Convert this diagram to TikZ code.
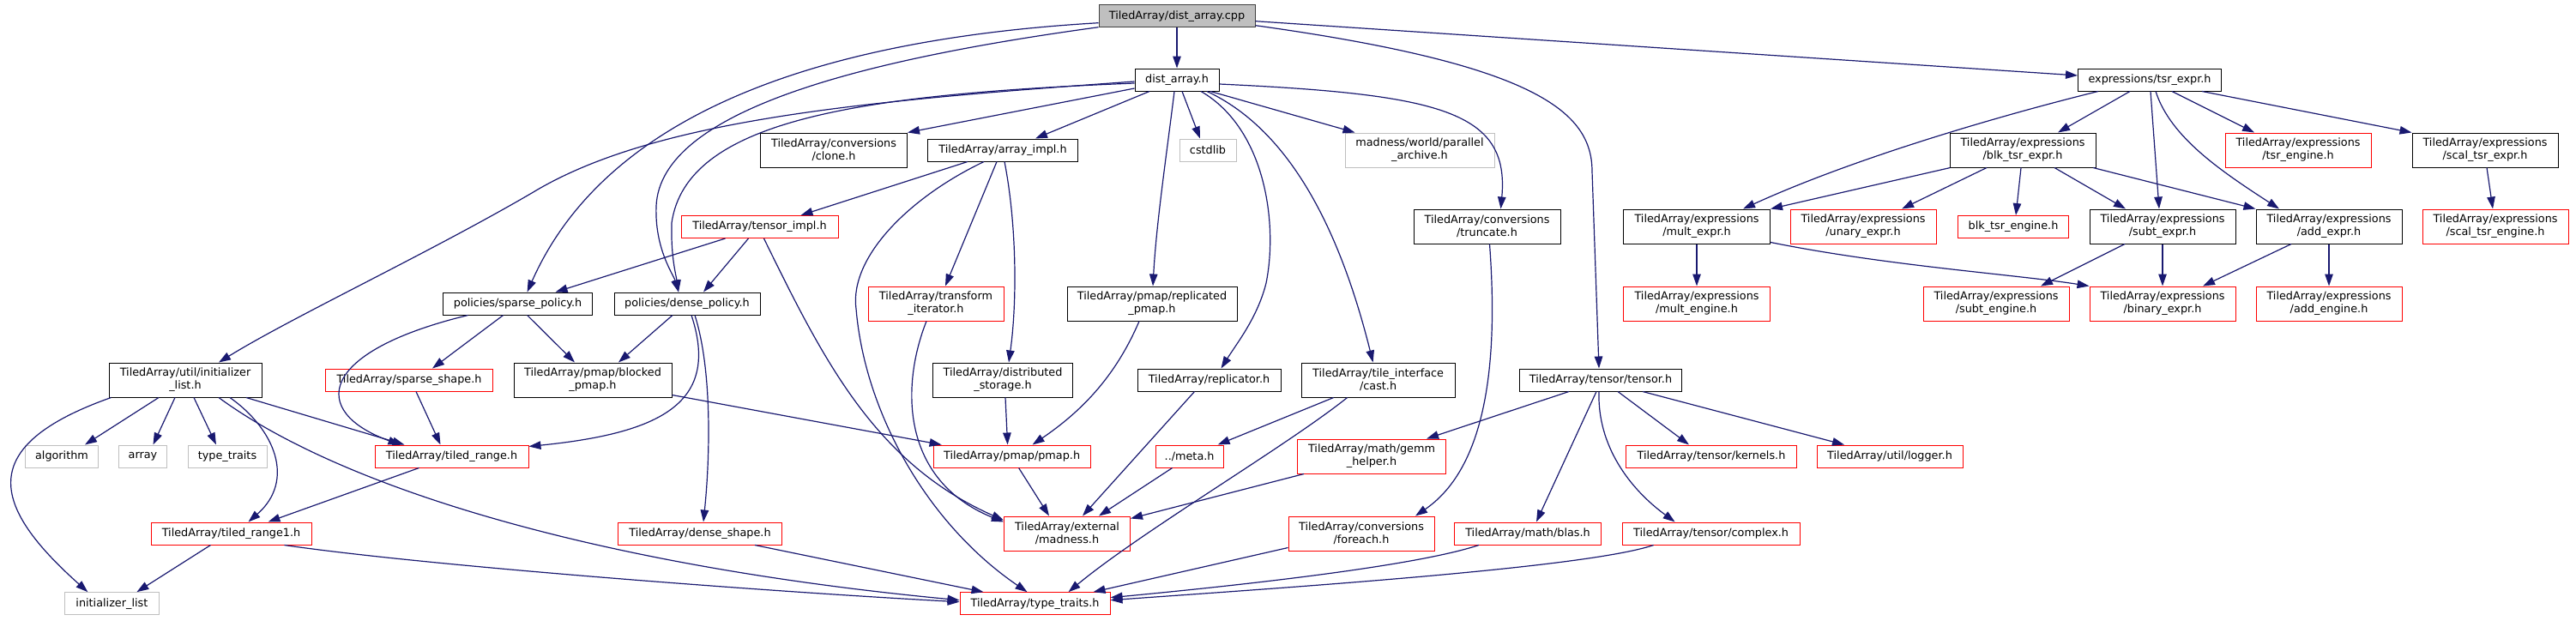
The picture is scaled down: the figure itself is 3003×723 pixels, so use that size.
\documentclass[tikz,border=0pt]{standalone}
\usepackage{fontspec}
\setmainfont{DejaVu Sans}
\usetikzlibrary{arrows.meta,calc}
\definecolor{edgeblue}{HTML}{191970}
\definecolor{extgray}{HTML}{BFBFBF}
\definecolor{rootfill}{HTML}{BFBFBF}
\definecolor{rootdraw}{HTML}{404040}
\definecolor{truncred}{HTML}{FF0000}
\tikzset{
  base/.style={rectangle, inner sep=0pt, align=center, font=\fontsize{12.8}{15}\selectfont, line width=1pt, fill=white, minimum height=26pt},
  two/.style={minimum height=40pt},
  doc/.style={base, draw=black},
  trn/.style={base, draw=truncred},
  ext/.style={base, draw=extgray},
  rootnode/.style={base, draw=rootdraw, fill=rootfill},
  dep/.style={draw=edgeblue, line width=1.2pt, -{Triangle[length=14pt,width=9.5pt]}}
}
\begin{document}
\begin{tikzpicture}[x=1pt,y=-1pt]
\useasboundingbox (0,0) rectangle (3003,723);
% row 1-2
\node[rootnode, minimum width=182pt] (root) at (1372,18.7) {TiledArray/dist\_array.cpp};
\node[doc, minimum width=98pt] (da) at (1372,93) {dist\_array.h};
\node[doc, minimum width=167pt] (tsrexpr) at (2506,93) {expressions/tsr\_expr.h};
% row 3
\node[doc,two, minimum width=171pt] (clone) at (972,175) {TiledArray/conversions\\/clone.h};
\node[doc, minimum width=175pt] (aimpl) at (1169,175) {TiledArray/array\_impl.h};
\node[ext, minimum width=66pt] (cstdlib) at (1408,175) {cstdlib};
\node[ext,two, minimum width=174pt] (parch) at (1655,175) {madness/world/parallel\\\_archive.h};
\node[doc,two, minimum width=170pt] (blk) at (2358,175) {TiledArray/expressions\\/blk\_tsr\_expr.h};
\node[trn,two, minimum width=170pt] (tsreng) at (2679,175) {TiledArray/expressions\\/tsr\_engine.h};
\node[doc,two, minimum width=170pt] (scal) at (2897,175) {TiledArray/expressions\\/scal\_tsr\_expr.h};
% row 4
\node[trn, minimum width=183pt] (timpl) at (885.5,264.5) {TiledArray/tensor\_impl.h};
\node[doc,two, minimum width=171pt] (trunc) at (1733.5,264) {TiledArray/conversions\\/truncate.h};
\node[doc,two, minimum width=171pt] (mult) at (1978,264) {TiledArray/expressions\\/mult\_expr.h};
\node[trn,two, minimum width=170pt] (unary) at (2172,264) {TiledArray/expressions\\/unary\_expr.h};
\node[trn, minimum width=129pt] (blkeng) at (2347,264.5) {blk\_tsr\_engine.h};
\node[doc,two, minimum width=170pt] (subt) at (2521,264) {TiledArray/expressions\\/subt\_expr.h};
\node[doc,two, minimum width=170pt] (add) at (2715,264) {TiledArray/expressions\\/add\_expr.h};
\node[trn,two, minimum width=170pt] (scaleng) at (2909,264) {TiledArray/expressions\\/scal\_tsr\_engine.h};
% row 5
\node[doc, minimum width=174pt] (sparse) at (603.6,354) {policies/sparse\_policy.h};
\node[doc, minimum width=170pt] (dense) at (801,354) {policies/dense\_policy.h};
\node[trn,two, minimum width=158pt] (transf) at (1091,354) {TiledArray/transform\\\_iterator.h};
\node[doc,two, minimum width=198pt] (repl) at (1343,354) {TiledArray/pmap/replicated\\\_pmap.h};
\node[trn,two, minimum width=171pt] (multeng) at (1978,354) {TiledArray/expressions\\/mult\_engine.h};
\node[trn,two, minimum width=170pt] (subteng) at (2327,354) {TiledArray/expressions\\/subt\_engine.h};
\node[trn,two, minimum width=170pt] (binary) at (2521,354) {TiledArray/expressions\\/binary\_expr.h};
\node[trn,two, minimum width=170pt] (addeng) at (2715,354) {TiledArray/expressions\\/add\_engine.h};
% row 6
\node[doc,two, minimum width=178pt] (uinit) at (216,443) {TiledArray/util/initializer\\\_list.h};
\node[trn, minimum width=195pt] (sshape) at (477,443) {TiledArray/sparse\_shape.h};
\node[doc,two, minimum width=184pt] (bpmap) at (691,443) {TiledArray/pmap/blocked\\\_pmap.h};
\node[doc,two, minimum width=163pt] (dstor) at (1169,443) {TiledArray/distributed\\\_storage.h};
\node[doc, minimum width=167pt] (replicator) at (1409.5,443) {TiledArray/replicator.h};
\node[doc,two, minimum width=179pt] (cast) at (1606.6,443) {TiledArray/tile\_interface\\/cast.h};
\node[doc, minimum width=189pt] (tensor) at (1866,443) {TiledArray/tensor/tensor.h};
% row 7
\node[ext, minimum width=85pt] (algo) at (72,532) {algorithm};
\node[ext, minimum width=56pt] (arr) at (166.5,532) {array};
\node[ext, minimum width=92pt] (stdtt) at (265,532) {type\_traits};
\node[trn, minimum width=179pt] (trange) at (526.5,532) {TiledArray/tiled\_range.h};
\node[trn, minimum width=183pt] (pmap) at (1179.6,532) {TiledArray/pmap/pmap.h};
\node[trn, minimum width=79pt] (meta) at (1386.6,532) {../meta.h};
\node[trn,two, minimum width=173pt] (gemm) at (1599,532) {TiledArray/math/gemm\\\_helper.h};
\node[trn, minimum width=199pt] (kernels) at (1995,532) {TiledArray/tensor/kernels.h};
\node[trn, minimum width=170pt] (logger) at (2203,532) {TiledArray/util/logger.h};
% row 8
\node[trn, minimum width=187pt] (trange1) at (269.5,622) {TiledArray/tiled\_range1.h};
\node[trn, minimum width=191pt] (dshape) at (816,622) {TiledArray/dense\_shape.h};
\node[trn,two, minimum width=147pt] (madness) at (1244,622) {TiledArray/external\\/madness.h};
\node[trn,two, minimum width=170pt] (foreach) at (1587,622) {TiledArray/conversions\\/foreach.h};
\node[trn, minimum width=171pt] (blas) at (1781,622) {TiledArray/math/blas.h};
\node[trn, minimum width=207pt] (complex) at (1994.6,622) {TiledArray/tensor/complex.h};
% row 9
\node[ext, minimum width=110pt] (initl) at (130.4,703.7) {initializer\_list};
\node[trn, minimum width=175pt] (tt) at (1206.5,703.7) {TiledArray/type\_traits.h};

% ---- edges from root
\draw[dep] (root) -- (da);
\draw[dep] ($(root.east)+(0,6)$) -- ($(tsrexpr.west)+(0,-5)$);
\draw[dep] ($(root.east)+(0,11)$) .. controls (1790,75) and (1856,130) .. (1856,200) -- ($(tensor.north)+(-2,0)$);
\draw[dep] ($(root.west)+(0,8)$) .. controls (880,50) and (690,170) .. ($(sparse.north)+(11,0)$);
\draw[dep] ($(root.west)+(0,13)$) .. controls (1000,70) and (770,130) .. (765,240) .. controls (763,290) and (785,320) .. ($(dense.north)+(-10,0)$);
% ---- edges from dist_array.h
\draw[dep] ($(da.west)+(0,10)$) -- (clone.north east);
\draw[dep] ($(da.south)+(-32,0)$) -- ($(aimpl.north)+(38,0)$);
\draw[dep] ($(da.south)+(6,0)$) -- ($(cstdlib.north)+(-9,0)$);
\draw[dep] ($(da.south)+(39,0)$) -- ($(parch.north west)+(12,0)$);
\draw[dep] ($(da.east)+(0,5)$) .. controls (1680,110) and (1760,130) .. ($(trunc.north)+(16,0)$);
\draw[dep] ($(da.south)+(-3,0)$) .. controls (1360,180) and (1348,260) .. ($(repl.north)+(1,0)$);
\draw[dep] ($(da.south)+(28,0)$) .. controls (1475,150) and (1490,260) .. (1476,330) .. controls (1466,370) and (1442,400) .. ($(replicator.north)+(14,0)$);
\draw[dep] ($(da.south)+(35,0)$) .. controls (1500,150) and (1560,260) .. ($(cast.north)+(-6,0)$);
\draw[dep] ($(da.west)+(0,2)$) .. controls (1000,118) and (760,140) .. (620,225) .. controls (500,295) and (340,370) .. ($(uinit.north)+(39,0)$);
\draw[dep] ($(da.west)+(0,4)$) .. controls (1000,110) and (800,140) .. (783,260) .. controls (782,300) and (788,320) .. ($(dense.north)+(-10,0)$);
% ---- array_impl
\draw[dep] ($(aimpl.south)+(-41,0)$) -- ($(timpl.north)+(48,0)$);
\draw[dep] ($(aimpl.south)+(-22,0)$) .. controls (1060,230) and (990,300) .. (998,360) .. controls (1008,480) and (1080,610) .. ($(tt.north)+(-9,0)$);
\draw[dep] ($(aimpl.south)+(-7,0)$) -- ($(transf.north)+(11,0)$);
\draw[dep] ($(aimpl.south)+(2,0)$) .. controls (1185,260) and (1186,350) .. ($(dstor.north)+(7,0)$);
% ---- tensor_impl, transform
\draw[dep] ($(timpl.south)+(-40,0)$) -- ($(sparse.north)+(44,0)$);
\draw[dep] ($(timpl.south)+(-13,0)$) -- ($(dense.north)+(19,0)$);
\draw[dep] ($(timpl.south)+(5,0)$) .. controls (960,420) and (1020,540) .. ($(madness.north west)+(0,5)$);
\draw[dep] ($(transf.south)+(-11,0)$) .. controls (1050,450) and (1050,560) .. ($(madness.north west)+(0,7)$);
% ---- policies
\draw[dep] ($(sparse.south)+(-17,0)$) -- ($(sshape.north)+(27,0)$);
\draw[dep] ($(sparse.south)+(11,0)$) -- ($(bpmap.north)+(-21,0)$);
\draw[dep] ($(sparse.south)+(-58,0)$) .. controls (370,410) and (360,480) .. ($(trange.north)+(-60,0)$);
\draw[dep] ($(dense.south)+(-17,0)$) -- ($(bpmap.north)+(30,0)$);
\draw[dep] ($(dense.south)+(5,0)$) .. controls (840,470) and (770,505) .. ($(trange.north east)+(0,2)$);
\draw[dep] ($(dense.south)+(9,0)$) .. controls (830,430) and (828,530) .. ($(dshape.north)+(4,0)$);
% ---- util/initializer_list.h
\draw[dep] ($(uinit.south west)+(3,0)$) .. controls (-30,520) and (-10,590) .. ($(initl.north)+(-28,0)$);
\draw[dep] ($(uinit.south)+(-31,0)$) -- ($(algo.north)+(27,0)$);
\draw[dep] ($(uinit.south)+(-12,0)$) -- ($(arr.north)+(12,0)$);
\draw[dep] ($(uinit.south)+(10,0)$) -- ($(stdtt.north)+(-13,0)$);
\draw[dep] ($(uinit.south)+(39,0)$) .. controls (400,570) and (700,660) .. ($(tt.west)+(0,-4)$);
\draw[dep] ($(uinit.south)+(52,0)$) .. controls (320,500) and (345,560) .. ($(trange1.north)+(20,0)$);
\draw[dep] ($(uinit.south)+(71,0)$) -- ($(trange.north)+(-55,0)$);
% ---- ranges, shapes
\draw[dep] ($(sshape.south)+(8,0)$) -- ($(trange.north)+(-13,0)$);
\draw[dep] ($(trange.south)+(-38,0)$) -- ($(trange1.north)+(43,0)$);
\draw[dep] ($(trange1.south)+(-24,0)$) -- ($(initl.north)+(29,0)$);
\draw[dep] ($(trange1.south)+(62,0)$) .. controls (500,660) and (900,690) .. ($(tt.west)+(0,-2)$);
\draw[dep] ($(dshape.south)+(64,0)$) -- ($(tt.north)+(-60,0)$);
% ---- pmaps
\draw[dep] ($(bpmap.south east)+(0,-3)$) -- ($(pmap.north west)+(10,0)$);
\draw[dep] ($(dstor.south)+(3,0)$) -- ($(pmap.north)+(-5,0)$);
\draw[dep] ($(repl.south)+(-15,0)$) .. controls (1300,440) and (1260,480) .. ($(pmap.north)+(24,0)$);
\draw[dep] ($(pmap.south)+(8,0)$) -- ($(madness.north)+(-21,0)$);
\draw[dep] ($(replicator.south)+(-17,0)$) -- ($(madness.north)+(18,0)$);
\draw[dep] ($(meta.south)+(-20,0)$) -- ($(madness.north)+(37,0)$);
\draw[dep] ($(gemm.south west)+(8,0)$) -- ($(madness.north east)+(0,3)$);
% ---- cast, tensor
\draw[dep] ($(cast.south)+(-52,0)$) -- ($(meta.north)+(33,0)$);
\draw[dep] ($(cast.south)+(-36,0)$) .. controls (1500,520) and (1330,620) .. ($(tt.north)+(39,0)$);
\draw[dep] ($(tensor.south)+(-37,0)$) -- ($(gemm.north)+(64,0)$);
\draw[dep] ($(tensor.south)+(-5,0)$) -- ($(blas.north)+(10,0)$);
\draw[dep] ($(tensor.south)+(-2,0)$) .. controls (1862,520) and (1900,570) .. ($(complex.north)+(-42,0)$);
\draw[dep] ($(tensor.south)+(20,0)$) -- ($(kernels.north)+(-26,0)$);
\draw[dep] ($(tensor.south)+(49,0)$) -- ($(logger.north)+(-53,0)$);
\draw[dep] ($(trunc.south)+(3,0)$) .. controls (1745,400) and (1740,540) .. ($(foreach.north)+(63,0)$);
\draw[dep] ($(foreach.south west)+(0,-4)$) -- ($(tt.north)+(68,0)$);
\draw[dep] ($(blas.south)+(-57,0)$) .. controls (1650,660) and (1450,682) .. ($(tt.east)+(0,-7)$);
\draw[dep] ($(complex.south)+(-67,0)$) .. controls (1850,662) and (1500,685) .. ($(tt.east)+(0,-4)$);
% ---- expressions
\draw[dep] ($(tsrexpr.south)+(-60,0)$) .. controls (2330,135) and (2160,185) .. ($(mult.north)+(54,0)$);
\draw[dep] ($(tsrexpr.south)+(-23,0)$) -- ($(blk.north)+(41,0)$);
\draw[dep] ($(tsrexpr.south)+(1,0)$) -- ($(subt.north)+(-4,0)$);
\draw[dep] ($(tsrexpr.south)+(7,0)$) .. controls (2530,160) and (2590,200) .. ($(add.north)+(-58,0)$);
\draw[dep] ($(tsrexpr.south)+(26,0)$) -- ($(tsreng.north)+(-51,0)$);
\draw[dep] ($(tsrexpr.south)+(61,0)$) -- (scal.north west);
\draw[dep] ($(blk.south west)+(1,0)$) -- (mult.north east);
\draw[dep] ($(blk.south)+(-42,0)$) -- ($(unary.north)+(45,0)$);
\draw[dep] ($(blk.south)+(-2,0)$) -- ($(blkeng.north)+(3,0)$);
\draw[dep] ($(blk.south)+(37,0)$) -- ($(subt.north)+(-43,0)$);
\draw[dep] ($(blk.south)+(82,0)$) -- (add.north west);
\draw[dep] ($(scal.south)+(2,0)$) -- ($(scaleng.north)+(-3,0)$);
\draw[dep] ($(mult.south east)+(0,-2)$) .. controls (2200,310) and (2350,320) .. (binary.north west);
\draw[dep] (mult) -- (multeng);
\draw[dep] ($(subt.south)+(-44,0)$) -- ($(subteng.north)+(52,0)$);
\draw[dep] (subt) -- (binary);
\draw[dep] ($(add.south)+(-44,0)$) -- ($(binary.north)+(47,0)$);
\draw[dep] (add) -- (addeng);
\end{tikzpicture}
\end{document}
